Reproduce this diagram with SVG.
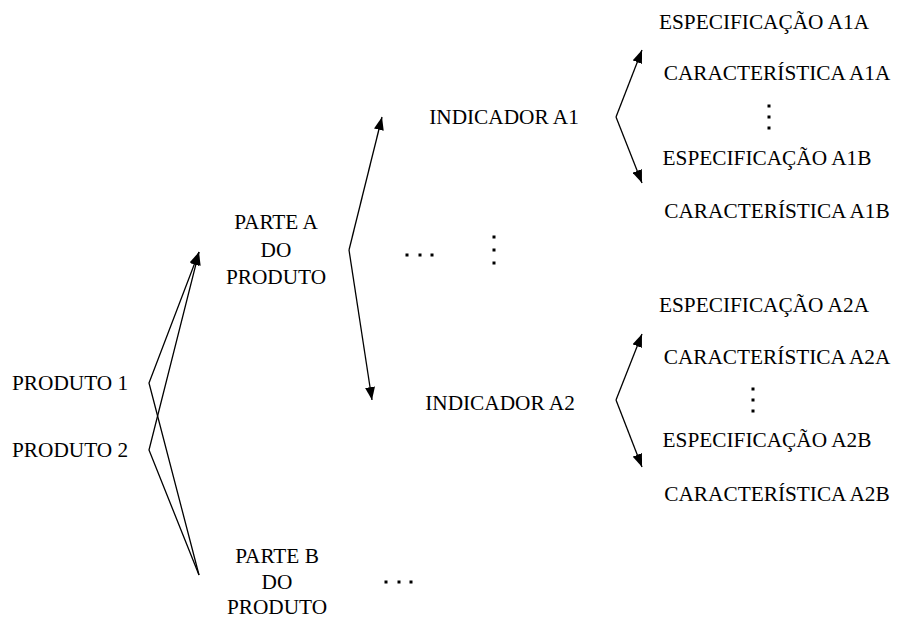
<svg xmlns="http://www.w3.org/2000/svg" width="899" height="621" viewBox="0 0 899 621">
  <style>
    text { font-family: "Liberation Serif", "Times New Roman", serif; font-size: 21.3px; fill: #000; }
    .c { text-anchor: middle; }
    .wire { fill: none; stroke: #000; stroke-width: 1.3; }
    .dot { fill: #000; }
  </style>
  <defs>
    <marker id="arrow" markerUnits="userSpaceOnUse" markerWidth="14" markerHeight="10" refX="13" refY="5" orient="auto">
      <path d="M0,0 L13,5 L0,10 Z" fill="#000"/>
    </marker>
  </defs>

  <!-- connectors -->
  <g id="connectors">
    <path class="wire" d="M199,575 L149,383 L199,252" marker-end="url(#arrow)"/>
    <path class="wire" d="M199,575 L149,450 L199,252" marker-end="url(#arrow)"/>
    <path class="wire" d="M349,250 L382,117" marker-end="url(#arrow)"/>
    <path class="wire" d="M349,250 L372,400" marker-end="url(#arrow)"/>
    <path class="wire" d="M616,117 L642,50" marker-end="url(#arrow)"/>
    <path class="wire" d="M616,117 L642,183" marker-end="url(#arrow)"/>
    <path class="wire" d="M616,400 L642,334" marker-end="url(#arrow)"/>
    <path class="wire" d="M616,400 L642,467" marker-end="url(#arrow)"/>
  </g>

  <!-- products -->
  <g id="produto1"><text x="12" y="390">PRODUTO 1</text></g>
  <g id="produto2"><text x="12" y="457">PRODUTO 2</text></g>

  <!-- product parts -->
  <g id="parte-a">
    <text class="c" x="276" y="229">PARTE A</text>
    <text class="c" x="276" y="257">DO</text>
    <text class="c" x="276" y="284">PRODUTO</text>
  </g>
  <g id="parte-b">
    <text class="c" x="277" y="563">PARTE B</text>
    <text class="c" x="277" y="589">DO</text>
    <text class="c" x="277" y="614">PRODUTO</text>
  </g>

  <!-- ellipses between indicators -->
  <g id="ellipsis-a">
    <rect class="dot" x="405.5" y="253.5" width="3" height="3"/>
    <rect class="dot" x="418.5" y="253.5" width="3" height="3"/>
    <rect class="dot" x="430.5" y="253.5" width="3" height="3"/>
    <rect class="dot" x="492.5" y="235.5" width="3" height="3"/>
    <rect class="dot" x="492.5" y="248.5" width="3" height="3"/>
    <rect class="dot" x="492.5" y="261.5" width="3" height="3"/>
  </g>
  <g id="ellipsis-b">
    <rect class="dot" x="384.5" y="580.5" width="3" height="3"/>
    <rect class="dot" x="397.5" y="580.5" width="3" height="3"/>
    <rect class="dot" x="409.5" y="580.5" width="3" height="3"/>
  </g>

  <!-- indicators -->
  <g id="indicador-a1"><text class="c" x="504" y="124">INDICADOR A1</text></g>
  <g id="indicador-a2"><text class="c" x="500" y="410">INDICADOR A2</text></g>

  <!-- specifications and characteristics of A1 -->
  <g id="spec-a1a"><text class="c" x="764" y="29">ESPECIFICAÇÃO A1A</text></g>
  <g id="char-a1a"><text class="c" x="777" y="80">CARACTERÍSTICA A1A</text></g>
  <g id="dots-a1">
    <rect class="dot" x="767.5" y="104.5" width="3" height="3"/>
    <rect class="dot" x="767.5" y="115.5" width="3" height="3"/>
    <rect class="dot" x="767.5" y="126.5" width="3" height="3"/>
  </g>
  <g id="spec-a1b"><text class="c" x="767" y="165">ESPECIFICAÇÃO A1B</text></g>
  <g id="char-a1b"><text class="c" x="777" y="218">CARACTERÍSTICA A1B</text></g>

  <!-- specifications and characteristics of A2 -->
  <g id="spec-a2a"><text class="c" x="764" y="312">ESPECIFICAÇÃO A2A</text></g>
  <g id="char-a2a"><text class="c" x="777" y="364">CARACTERÍSTICA A2A</text></g>
  <g id="dots-a2">
    <rect class="dot" x="751.5" y="387.5" width="3" height="3"/>
    <rect class="dot" x="751.5" y="398.5" width="3" height="3"/>
    <rect class="dot" x="751.5" y="409.5" width="3" height="3"/>
  </g>
  <g id="spec-a2b"><text class="c" x="767" y="447">ESPECIFICAÇÃO A2B</text></g>
  <g id="char-a2b"><text class="c" x="777" y="501">CARACTERÍSTICA A2B</text></g>
</svg>
